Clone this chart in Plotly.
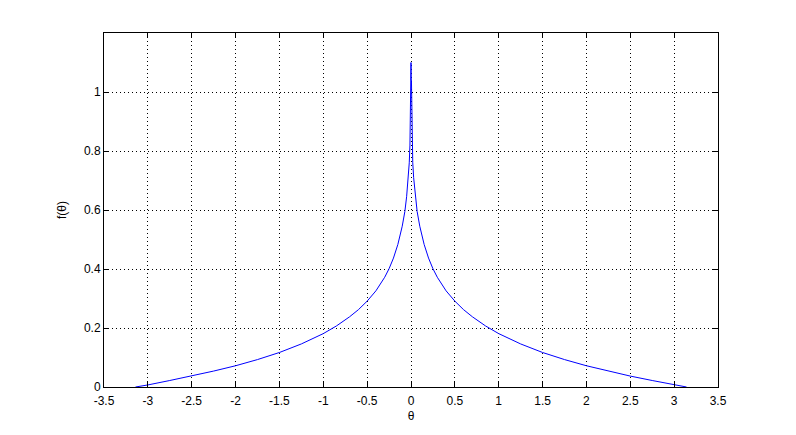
import plotly.graph_objects as go

# values (curve is symmetric around 0)
theta_right = [0.0, 0.002, 0.005, 0.012, 0.02, 0.03, 0.05, 0.07, 0.1, 0.15, 0.2,
               0.25, 0.3, 0.4, 0.5, 0.6, 0.7, 0.85, 1.0, 1.25, 1.5, 1.75, 2.0,
               2.25, 2.5, 2.75, 3.0, 3.1416]
f_right = [1.10, 1.04, 1.04, 0.82, 0.76, 0.71, 0.645, 0.595, 0.545, 0.483, 0.437,
           0.401, 0.372, 0.326, 0.291, 0.262, 0.238, 0.207, 0.181, 0.146, 0.117,
           0.093, 0.072, 0.054, 0.037, 0.022, 0.007, 0.0]

theta = [-t for t in theta_right[::-1]] + theta_right[1:]
f = f_right[::-1] + f_right[1:]

x_ticks = [-3.5, -3, -2.5, -2, -1.5, -1, -0.5, 0, 0.5, 1, 1.5, 2, 2.5, 3, 3.5]
y_ticks = [0, 0.2, 0.4, 0.6, 0.8, 1]

fig = go.Figure()
fig.add_trace(
    go.Scatter(x=theta, y=f, mode="lines",
               line=dict(color="#0000ff", width=1), showlegend=False)
)

axis_style = dict(
    showgrid=True, gridcolor="black", griddash="1px,3px", gridwidth=1,
    showline=True, linecolor="black", linewidth=1, mirror="ticks",
    ticks="inside", ticklen=5, tickcolor="black", zeroline=False,
    tickfont=dict(family="Liberation Sans", size=12, color="black"),
)

fig.update_xaxes(range=[-3.5, 3.5], tickvals=x_ticks,
                 ticktext=[f"{v:g}" for v in x_ticks], ticklabelstandoff=3,
                 title=dict(text="θ", standoff=4,
                            font=dict(family="Liberation Sans", size=12)),
                 **axis_style)
fig.update_yaxes(range=[0, 1.2], tickvals=y_ticks,
                 ticktext=[f"{v:g}" for v in y_ticks],
                 title=dict(text="f(θ)", standoff=14,
                            font=dict(family="Liberation Sans", size=12)),
                 **axis_style)

fig.update_layout(
    width=788, height=427,
    margin=dict(l=96, r=78, t=25, b=48),
    paper_bgcolor="white", plot_bgcolor="white",
    font=dict(family="Liberation Sans", size=12, color="black"),
)

fig.write_html("out.html")
